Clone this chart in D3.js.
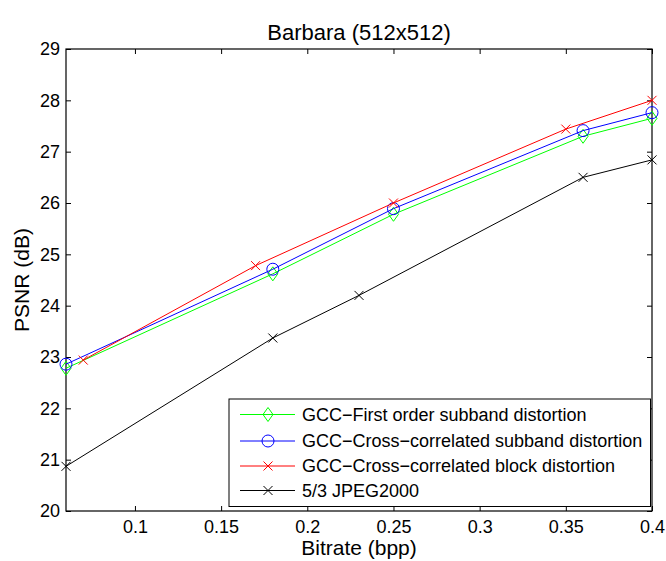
<!DOCTYPE html>
<html><head><meta charset="utf-8">
<script src="https://cdn.jsdelivr.net/npm/d3@7/dist/d3.min.js"></script>
<style>body{margin:0;background:#fff;} svg{display:block;} text{font-family:"Liberation Sans",Arial,sans-serif;}</style>
</head><body><svg id="c" width="666" height="561"></svg>
<script>
const seriesNames = ["GCC\u2212First order subband distortion","GCC\u2212Cross\u2212correlated subband distortion","GCC\u2212Cross\u2212correlated block distortion","5/3 JPEG2000"];
const firstOrderX = [0.06, 0.18, 0.25, 0.36, 0.40];
const firstOrderY = [22.78, 24.62, 25.78, 27.30, 27.65];
const crossSubX = [0.06, 0.18, 0.25, 0.36, 0.40];
const crossSubY = [22.86, 24.71, 25.89, 27.41, 27.76];
const crossBlockX = [0.07, 0.17, 0.25, 0.35, 0.40];
const crossBlockY = [22.94, 24.78, 26.00, 27.44, 28.00];
const jpegX = [0.06, 0.18, 0.23, 0.36, 0.40];
const jpegY = [20.87, 23.37, 24.20, 26.50, 26.84];
const xTicks = [0.1, 0.15, 0.2, 0.25, 0.3, 0.35, 0.4];
const yTicks = [20,21,22,23,24,25,26,27,28,29];

const colors = ["#00ff00","#0000ff","#ff0000","#000000"];
const markers = ["diamond","circle","x","x"];
const series = [
  {name:seriesNames[0], xs:firstOrderX, ys:firstOrderY},
  {name:seriesNames[1], xs:crossSubX, ys:crossSubY},
  {name:seriesNames[2], xs:crossBlockX, ys:crossBlockY},
  {name:seriesNames[3], xs:jpegX, ys:jpegY}
];

const L=66, R=652, T=49, B=511;
const svg = d3.select("#c");
const x = d3.scaleLinear().domain([0.06,0.4]).range([L,R]);
const y = d3.scaleLinear().domain([20,29]).range([B,T]);

const tl = 5;
const gx = svg.append("g").attr("transform",`translate(0,${B})`)
  .call(d3.axisBottom(x).tickValues(xTicks).tickSizeInner(-tl).tickSizeOuter(0).tickPadding(9).tickFormat(d3.format("")));
const gxt = svg.append("g").attr("transform",`translate(0,${T})`)
  .call(d3.axisTop(x).tickValues(xTicks).tickSizeInner(-tl).tickSizeOuter(0).tickFormat(""));
const gy = svg.append("g").attr("transform",`translate(${L},0)`)
  .call(d3.axisLeft(y).tickValues(yTicks).tickSizeInner(-tl).tickSizeOuter(0).tickPadding(6).tickFormat(d3.format("d")));
const gyr = svg.append("g").attr("transform",`translate(${R},0)`)
  .call(d3.axisRight(y).tickValues(yTicks).tickSizeInner(-tl).tickSizeOuter(0).tickFormat(""));
[gx,gxt,gy,gyr].forEach(g=>{
  g.select(".domain").remove();
  g.selectAll("line").attr("stroke","#000").attr("stroke-width",1);
  g.selectAll("text").attr("fill","#000").style("font-size","18px").style("font-family","'Liberation Sans',Arial,sans-serif");
});
svg.append("rect").attr("x",L).attr("y",T).attr("width",R-L).attr("height",B-T)
  .attr("fill","none").attr("stroke","#000").attr("stroke-width",1.2);

function drawMarker(g, type, cx, cy, color){
  if(type==="diamond"){
    g.append("path").attr("d",`M${cx},${cy-7}L${cx+5},${cy}L${cx},${cy+7}L${cx-5},${cy}Z`)
      .attr("fill","none").attr("stroke",color).attr("stroke-width",1);
  } else if(type==="circle"){
    g.append("circle").attr("cx",cx).attr("cy",cy).attr("r",6)
      .attr("fill","none").attr("stroke",color).attr("stroke-width",1);
  } else {
    const s=4.5;
    g.append("path").attr("d",`M${cx-s},${cy-s}L${cx+s},${cy+s}M${cx-s},${cy+s}L${cx+s},${cy-s}`)
      .attr("stroke",color).attr("stroke-width",1);
  }
}

const line = d3.line().x(d=>x(d[0])).y(d=>y(d[1]));
const plot = svg.append("g");
series.forEach((s,i)=>{
  const pts = s.xs.map((v,j)=>[v,s.ys[j]]);
  plot.append("path").datum(pts).attr("d",line).attr("fill","none").attr("stroke",colors[i]).attr("stroke-width",1);
  pts.forEach(p=>drawMarker(plot, markers[i], x(p[0]), y(p[1]), colors[i]));
});

const lg = svg.append("g");
lg.append("rect").attr("x",229).attr("y",399).attr("width",421.5).attr("height",107.5)
  .attr("fill","#fff").attr("stroke","#000").attr("stroke-width",1);
const ly = [414.5, 441, 466, 490.5];
series.forEach((s,i)=>{
  lg.append("line").attr("x1",240).attr("x2",295).attr("y1",ly[i]).attr("y2",ly[i]).attr("stroke",colors[i]).attr("stroke-width",1);
  drawMarker(lg, markers[i], 268, ly[i], colors[i]);
  lg.append("text").attr("x",302).attr("y",ly[i]).attr("dy","0.35em").style("font-size","18px").text(s.name);
});

svg.append("text").attr("x",(L+R)/2).attr("y",40).attr("text-anchor","middle").style("font-size","22px").text("Barbara (512x512)");
svg.append("text").attr("x",(L+R)/2).attr("y",555).attr("text-anchor","middle").style("font-size","21px").text("Bitrate (bpp)");
svg.append("text").attr("transform",`translate(29,${(T+B)/2}) rotate(-90)`).attr("text-anchor","middle").style("font-size","21px").text("PSNR (dB)");
</script></body></html>
